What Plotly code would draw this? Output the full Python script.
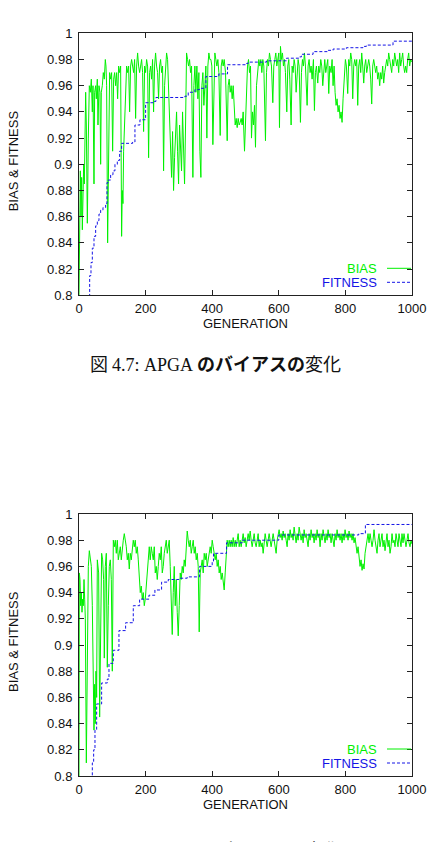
import plotly.graph_objects as go

# ---------------- data ----------------
GEN_TICKS = [0, 200, 400, 600, 800, 1000]
Y_TICKS = [0.8, 0.82, 0.84, 0.86, 0.88, 0.9, 0.92, 0.94, 0.96, 0.98, 1.0]
Y_TICK_TEXT = ["0.8", "0.82", "0.84", "0.86", "0.88", "0.9", "0.92", "0.94", "0.96", "0.98", "1"]

# Chart 1 (APGA)
bias1_gen = [0, 2, 4, 6, 8, 10, 12, 14, 16, 18, 20, 22, 25, 28, 31, 34, 37, 40, 42, 45, 47, 50, 52, 55, 57, 60,
             63, 65, 67, 70, 73, 76, 79, 81, 83, 86, 89, 92, 95, 98, 101, 104, 107, 110, 113, 116, 119, 122, 125,
             128, 130, 132, 134, 137, 140, 143, 146, 149, 152, 155, 158, 161, 164, 167, 170, 173, 176, 179, 182,
             185, 188, 191, 194, 197, 200, 203, 206, 209, 212, 215, 218, 221, 224, 227, 230, 233, 236, 239, 242,
             245, 248, 251, 254, 257, 260, 263, 266, 269, 272, 275, 278, 281, 284, 287, 290, 293, 296, 299, 302,
             305, 308, 311, 314, 317, 320, 323, 326, 329, 332, 335, 338, 342, 345, 348, 351, 354, 357, 360, 363,
             366, 369, 372, 375, 378, 381, 384, 387, 390, 393, 396, 399, 402, 405, 408, 411, 414, 417, 420, 424,
             427, 430, 433, 436, 440, 445, 448, 451, 454, 457, 460, 463, 466, 469, 472, 475, 478, 481, 484, 487,
             490, 493, 497, 500, 503, 506, 509, 512, 515, 518, 521, 524, 527, 530, 533, 537, 540, 543, 546, 549,
             552, 555, 560, 563, 566, 569, 572, 575, 578, 582, 585, 588, 591, 594, 597, 600, 602, 605, 608, 611,
             614, 617, 620, 624, 627, 630, 633, 637, 640, 643, 646, 649, 652, 655, 658, 661, 665, 668, 671, 674,
             677, 680, 685, 688, 691, 694, 697, 700, 704, 707, 710, 713, 717, 720, 723, 726, 729, 732, 735, 738,
             741, 744, 747, 750, 753, 757, 760, 763, 766, 769, 772, 775, 778, 781, 784, 787, 790, 793, 797, 800,
             803, 807, 810, 813, 816, 819, 822, 825, 828, 831, 834, 837, 840, 843, 846, 849, 852, 855, 858, 861,
             864, 867, 870, 873, 876, 879, 882, 885, 888, 891, 894, 897, 900, 903, 906, 909, 912, 915, 918, 921,
             924, 927, 930, 933, 936, 939, 942, 945, 948, 951, 954, 957, 960, 963, 966, 969, 972, 975, 978, 981,
             984, 987, 990, 993, 996, 1000]
bias1_val = [0.80, 0.87, 0.895, 0.86, 0.89, 0.85, 0.895, 0.90, 0.885, 0.92, 0.955, 0.93, 0.855, 0.92, 0.96, 0.955,
             0.965, 0.94, 0.96, 0.885, 0.955, 0.96, 0.95, 0.965, 0.93, 0.96,
             0.955, 0.90, 0.955, 0.96, 0.97, 0.965, 0.98, 0.975, 0.96, 0.84, 0.94, 0.97, 0.965, 0.97, 0.91, 0.965,
             0.97, 0.96, 0.97, 0.95, 0.975, 0.97, 0.975,
             0.845, 0.88, 0.87, 0.91, 0.93, 0.96, 0.975, 0.97, 0.975, 0.94, 0.975, 0.98, 0.975, 0.97, 0.98, 0.935,
             0.975, 0.985, 0.975, 0.97,
             0.975, 0.98, 0.97, 0.925, 0.975, 0.97, 0.98, 0.975, 0.905, 0.97, 0.975, 0.965, 0.98, 0.94, 0.975,
             0.985, 0.975, 0.97, 0.95, 0.975,
             0.98, 0.97, 0.975, 0.895, 0.96, 0.975, 0.985, 0.98, 0.96, 0.93, 0.91, 0.89, 0.925, 0.88, 0.905, 0.92,
             0.94, 0.91, 0.885, 0.93,
             0.915, 0.895, 0.94, 0.91, 0.885, 0.93, 0.985, 0.98, 0.975, 0.98, 0.97, 0.975, 0.89, 0.96, 0.975, 0.955,
             0.975, 0.95, 0.97, 0.91,
             0.89, 0.96, 0.97, 0.945, 0.965, 0.975, 0.92, 0.975, 0.985, 0.98, 0.98, 0.975, 0.915, 0.97, 0.985, 0.98,
             0.975, 0.98, 0.97, 0.922,
             0.975, 0.98, 0.975, 0.98, 0.97, 0.918, 0.96, 0.965, 0.955, 0.96, 0.95, 0.96, 0.94, 0.93, 0.935, 0.928,
             0.935, 0.93, 0.932, 0.935,
             0.93, 0.94, 0.91, 0.93, 0.96, 0.975, 0.98, 0.97, 0.975, 0.92, 0.94, 0.93, 0.945, 0.913, 0.96, 0.975,
             0.98, 0.975, 0.98, 0.97,
             0.98, 0.975, 0.918, 0.97, 0.98, 0.975, 0.985, 0.98, 0.975, 0.947, 0.975, 0.98, 0.985, 0.975, 0.98,
             0.985, 0.928, 0.99, 0.98, 0.985,
             0.975, 0.98, 0.97, 0.94, 0.975, 0.98, 0.965, 0.93, 0.975, 0.97, 0.98, 0.975, 0.955, 0.97, 0.98, 0.975,
             0.932, 0.97, 0.98, 0.975,
             0.985, 0.975, 0.945, 0.975, 0.98, 0.97, 0.975, 0.965, 0.98, 0.941, 0.97, 0.975, 0.962, 0.975, 0.97,
             0.98, 0.975, 0.96, 0.975, 0.98,
             0.97, 0.975, 0.98, 0.954, 0.975, 0.97, 0.98, 0.96, 0.975, 0.955, 0.945, 0.95, 0.94, 0.945, 0.935, 0.94,
             0.932, 0.95, 0.975, 0.98,
             0.975, 0.954, 0.98, 0.975, 0.985, 0.98, 0.95, 0.975, 0.98, 0.975, 0.98, 0.945, 0.975, 0.98, 0.97, 0.985,
             0.975, 0.962, 0.975, 0.98,
             0.97, 0.975, 0.98, 0.975, 0.965, 0.946, 0.975, 0.98, 0.975, 0.97, 0.975, 0.965, 0.97, 0.96, 0.97, 0.965,
             0.975, 0.962, 0.97, 0.975,
             0.98, 0.975, 0.985, 0.98, 0.975, 0.97, 0.98, 0.975, 0.985, 0.98, 0.975, 0.98, 0.97, 0.985, 0.975, 0.98,
             0.985, 0.975, 0.97, 0.975,
             0.97, 0.98, 0.985, 0.975, 0.98, 0.978]

fit1_gen = [0, 28, 32, 36, 40, 45, 50, 55, 60, 65, 72, 80, 84, 88, 95, 102, 108, 115, 122, 128, 161, 168, 183, 200,
            223, 231, 318, 328, 348, 362, 381, 420, 446, 503, 508, 563, 623, 663, 668, 703, 748, 763, 803, 853, 863,
            943, 1000]
fit1_val = [0.70, 0.78, 0.815, 0.825, 0.836, 0.845, 0.853, 0.857, 0.862, 0.865, 0.867, 0.870, 0.886, 0.888, 0.892,
            0.895, 0.900, 0.903, 0.910, 0.916, 0.917, 0.930, 0.934, 0.947,
            0.948, 0.951, 0.952, 0.955, 0.957, 0.958, 0.967, 0.969, 0.976, 0.977, 0.978, 0.979, 0.981, 0.982, 0.984,
            0.986, 0.987, 0.988, 0.989, 0.990, 0.991,
            0.994, 0.994]

# Chart 2
bias2_gen = [0, 1, 3, 5, 7, 9, 11, 13, 15, 17, 19, 22, 25, 28, 31, 34, 37, 40, 43, 45, 47, 49, 51, 53, 55, 57, 59,
             62, 65, 68, 71, 74, 76, 79, 82, 85, 88, 91, 94, 97, 100] + list(range(103, 1000, 3)) + [1000]
bias2_val = [0.80, 0.955, 0.95, 0.93, 0.94, 0.925, 0.935, 0.93, 0.95, 0.935, 0.92, 0.81, 0.90, 0.96, 0.972, 0.965,
             0.96, 0.93, 0.86, 0.835, 0.87, 0.84, 0.88, 0.86, 0.965, 0.96, 0.955,
             0.845, 0.93, 0.97, 0.965, 0.95, 0.89, 0.96, 0.97, 0.883, 0.93, 0.96, 0.965, 0.95, 0.88,
             # 103 ..
             0.98, 0.975, 0.98, 0.97, 0.98, 0.965, 0.97, 0.975, 0.965, 0.975, 0.98, 0.985, 0.98, 0.975, 0.965,
             0.97, 0.958, 0.97, 0.965, 0.975, 0.98, 0.975, 0.98, 0.97, 0.975, 0.965, 0.95, 0.94, 0.945, 0.935,
             0.94, 0.93, 0.935, 0.945, 0.96, 0.97, 0.975, 0.965, 0.975, 0.97, 0.965, 0.975, 0.955, 0.96, 0.95,
             0.96, 0.97, 0.965, 0.975, 0.955, 0.96, 0.97, 0.975, 0.98, 0.97, 0.975, 0.98, 0.96, 0.93, 0.908,
             0.94, 0.96, 0.93, 0.95, 0.925, 0.907, 0.93, 0.955, 0.95, 0.96, 0.955, 0.965, 0.96, 0.975, 0.987,
             0.98, 0.975, 0.98, 0.97, 0.975, 0.98, 0.97, 0.975, 0.965, 0.97, 0.96, 0.91, 0.955, 0.96, 0.965,
             0.955, 0.97, 0.965, 0.97, 0.96, 0.965, 0.97, 0.975, 0.97, 0.98, 0.975, 0.97, 0.965, 0.97, 0.96,
             0.965, 0.955, 0.96, 0.95, 0.955, 0.945, 0.942, 0.955, 0.975, 0.98, 0.975, 0.98, 0.975, 0.98, 0.975,
             0.982, 0.975, 0.98, 0.975, 0.98, 0.985, 0.975, 0.98, 0.975, 0.98, 0.985, 0.978, 0.982, 0.975, 0.98,
             0.985, 0.98, 0.987, 0.98, 0.975, 0.98, 0.985, 0.978, 0.975, 0.98, 0.985, 0.975, 0.98, 0.975, 0.978,
             0.97, 0.98, 0.985, 0.98, 0.975, 0.98, 0.985, 0.98, 0.975, 0.98, 0.985, 0.98, 0.975, 0.97, 0.98,
             0.985, 0.988, 0.982, 0.985, 0.98, 0.987, 0.982, 0.985, 0.98, 0.975, 0.985, 0.98, 0.988, 0.982, 0.985,
             0.98, 0.99, 0.983, 0.978, 0.985, 0.98, 0.99, 0.983, 0.98, 0.985, 0.978, 0.988, 0.982, 0.985, 0.98,
             0.975, 0.985, 0.98, 0.988, 0.982, 0.985, 0.978, 0.985, 0.98, 0.988, 0.982, 0.985, 0.975, 0.985, 0.98,
             0.988, 0.982, 0.978, 0.985, 0.98, 0.988, 0.982, 0.985, 0.978, 0.985, 0.98, 0.975, 0.985, 0.98, 0.988,
             0.982, 0.985, 0.98, 0.985, 0.978, 0.985, 0.98, 0.988, 0.982, 0.985, 0.98, 0.987, 0.982, 0.985, 0.98,
             0.985, 0.978, 0.982, 0.975, 0.97, 0.975, 0.965, 0.96, 0.965, 0.957, 0.962, 0.958, 0.97, 0.975, 0.98,
             0.985, 0.978, 0.985, 0.98, 0.975, 0.98, 0.988, 0.98, 0.975, 0.97, 0.98, 0.985, 0.975, 0.98, 0.985,
             0.975, 0.98, 0.972, 0.98, 0.985, 0.975, 0.98, 0.97, 0.975, 0.985, 0.978, 0.98, 0.975, 0.985, 0.98,
             0.975, 0.985, 0.98, 0.975, 0.985, 0.978, 0.985, 0.98, 0.975, 0.98, 0.985, 0.978, 0.975, 0.98,
             0.977]

fit2_gen = [0, 35, 40, 44, 48, 53, 68, 85, 90, 103, 120, 140, 163, 182, 210, 228, 248, 268, 300, 325, 362, 400,
            404, 443, 490, 600, 840, 860, 1000]
fit2_val = [0.70, 0.78, 0.81, 0.82, 0.835, 0.855, 0.871, 0.874, 0.886, 0.896, 0.911, 0.917, 0.93, 0.935, 0.938,
            0.942, 0.948, 0.95, 0.951, 0.952, 0.96, 0.964, 0.97, 0.978, 0.98, 0.984, 0.985, 0.992, 0.992]

SERIES_NAMES = ["BIAS", "FITNESS"]
X_TITLE = "GENERATION"
Y_TITLE = "BIAS &amp; FITNESS"
CAPTION_FIG = ["図", "図"]
CAPTION_NUM = ["4.7: APGA", "4.8: DPGA"]
CAPTION_KANA = ["のバイアスの", "のバイアスの"]
CAPTION_END = ["変化", "変化"]

# ---------------- style ----------------
W, H = 428, 842
GREEN = "rgb(0,240,0)"
BLUE = "rgb(20,20,230)"
FONT = "Liberation Sans, Arial, sans-serif"

def px_x(p):
    return p / W

def px_y(p):
    return 1 - p / H

X0, X1 = 79, 412
panels = [dict(top=33.3, bot=295.3), dict(top=514, bot=776)]

fig = go.Figure()
datasets = [(bias1_gen, bias1_val, fit1_gen, fit1_val), (bias2_gen, bias2_val, fit2_gen, fit2_val)]

annotations = []
shapes = []
for i, (bg, bv, fg, fv) in enumerate(datasets):
    sfx = "" if i == 0 else str(i + 1)
    xa, ya = "x" + sfx, "y" + sfx
    fig.add_trace(go.Scatter(x=bg, y=bv, mode="lines", name=SERIES_NAMES[0], xaxis=xa, yaxis=ya,
                             line=dict(color=GREEN, width=1), showlegend=False))
    fig.add_trace(go.Scatter(x=fg, y=fv, mode="lines", name=SERIES_NAMES[1], xaxis=xa, yaxis=ya,
                             line=dict(color=BLUE, width=1, dash="3px,2px", shape="hv"), showlegend=False))
    p = panels[i]
    axis_common = dict(showline=True, linecolor="#222", linewidth=1, mirror="ticks", ticks="inside",
                       ticklen=5, tickcolor="#222", showgrid=False, zeroline=False, automargin=False,
                       tickfont=dict(family=FONT, size=13, color="#111"))
    fig.layout["xaxis" + sfx] = dict(axis_common, domain=[px_x(X0), px_x(X1)], range=[0, 1000],
                                     tickvals=GEN_TICKS, anchor=ya, ticklabelstandoff=1)
    fig.layout["yaxis" + sfx] = dict(axis_common, domain=[px_y(p["bot"]), px_y(p["top"])], range=[0.8, 1.0],
                                     tickvals=Y_TICKS, ticktext=Y_TICK_TEXT, anchor=xa, ticklabelstandoff=3)
    # axis titles
    annotations.append(dict(text=X_TITLE, x=px_x((X0 + X1) / 2), y=px_y(p["bot"] + 28), xref="paper", yref="paper",
                            showarrow=False, font=dict(family=FONT, size=13, color="#111"),
                            xanchor="center", yanchor="middle"))
    annotations.append(dict(text=Y_TITLE, x=px_x(13), y=px_y((p["top"] + p["bot"]) / 2 - 3), xref="paper",
                            yref="paper", showarrow=False, textangle=-90,
                            font=dict(family=FONT, size=13, color="#111"), xanchor="center", yanchor="middle"))
    # legend (gnuplot style: text then sample)
    for j, (nm, col, dash) in enumerate([(SERIES_NAMES[0], GREEN, "solid"), (SERIES_NAMES[1], BLUE, "3px,2px")]):
        ly = p["bot"] - 27 + j * 14
        annotations.append(dict(text=nm, x=px_x(379), y=px_y(ly), xref="paper", yref="paper", showarrow=False,
                                font=dict(family=FONT, size=13, color=col), xanchor="right", yanchor="middle"))
        shapes.append(dict(type="line", xref="paper", yref="paper", x0=px_x(387), x1=px_x(411), y0=px_y(ly),
                           y1=px_y(ly), line=dict(color=col, width=1, dash=dash)))

# captions
cap_y = [363, 849]
for k in range(2):
    t = (CAPTION_FIG[k] + " <span style=\"font-family:'Liberation Serif',serif\">" + CAPTION_NUM[k] + "</span> "
         + "<b>" + CAPTION_KANA[k] + "</b>" + CAPTION_END[k])
    annotations.append(dict(text=t, x=px_x(216), y=px_y(cap_y[k]), xref="paper", yref="paper", showarrow=False,
                            font=dict(family="Noto Sans CJK JP, sans-serif", size=18, color="#111"),
                            xanchor="center", yanchor="middle"))

fig.update_layout(width=W, height=H, margin=dict(l=0, r=0, t=0, b=0, autoexpand=False), paper_bgcolor="white",
                  plot_bgcolor="white", annotations=annotations, shapes=shapes, showlegend=False)

fig.write_html("out.html", config={"displayModeBar": False},
               post_script="document.body.style.margin='0px';document.documentElement.style.overflow='hidden';")
